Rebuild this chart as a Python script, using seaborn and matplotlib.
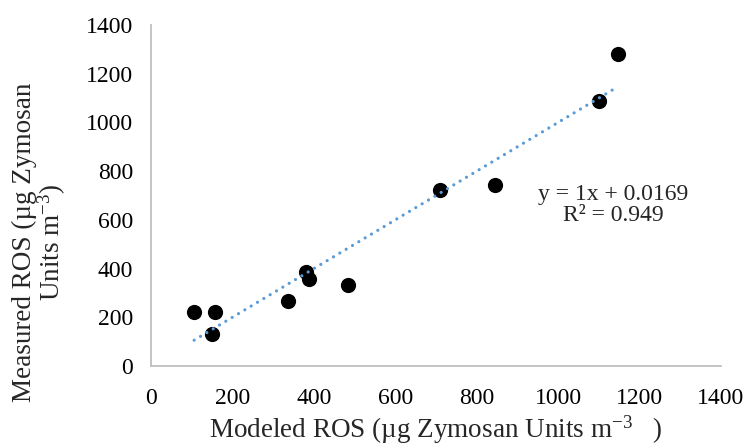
import matplotlib
matplotlib.use("Agg")
import matplotlib.pyplot as plt
import seaborn as sns
import numpy as np
import pandas as pd

# Data
modeled = [106, 157, 149, 336, 381, 387, 484, 710, 845, 1101, 1148]
measured = [221, 221, 130, 268, 385, 357, 332, 724, 742, 1090, 1282]
trend_slope = 1.0
trend_intercept = 0.0169
x_ticks = [0, 200, 400, 600, 800, 1000, 1200, 1400]
y_ticks = [0, 200, 400, 600, 800, 1000, 1200, 1400]
eq_lines = ["y = 1x + 0.0169", "R² = 0.949"]

sns.set_theme(style="white")
plt.rcParams['font.family'] = ['Liberation Serif', 'DejaVu Serif']
plt.rcParams['mathtext.fontset'] = 'custom'
plt.rcParams['mathtext.rm'] = 'Liberation Serif'
plt.rcParams['mathtext.it'] = 'Liberation Serif:italic'

df = pd.DataFrame({"Modeled": modeled, "Measured": measured})

fig = plt.figure(figsize=(7.47, 4.46), dpi=100)
ax = fig.add_axes([151/747, 1 - 366/446, (721 - 151)/747, (366 - 25)/446])

sns.scatterplot(data=df, x="Modeled", y="Measured", ax=ax, color="black",
                s=120, edgecolor="black", linewidth=0, zorder=2)

xs = np.array([min(modeled), max(modeled)])
ax.plot(xs, trend_slope * xs + trend_intercept, color="#5B9BD5", lw=2.3,
        linestyle=(0, (0.01, 2.3)), dash_capstyle="round", zorder=3)

ax.set_xlim(0, 1400)
ax.set_ylim(0, 1400)
ax.set_xticks(x_ticks)
ax.set_yticks(y_ticks)
ax.tick_params(axis="both", length=0, labelsize=17, colors="black")
ax.tick_params(axis="y", pad=13)
ax.tick_params(axis="x", pad=16)

for s in ["top", "right"]:
    ax.spines[s].set_visible(False)
for s in ["left", "bottom"]:
    ax.spines[s].set_color("#BFBFBF")
    ax.spines[s].set_linewidth(1.3)

ax.set_xlabel(r"Modeled ROS (µg Zymosan Units m$^{\mathregular{-3}}$   )", fontsize=19.5)
ax.set_ylabel("Measured ROS (µg Zymosan\n" + r"Units m$^{\mathregular{-3}}$)", fontsize=19.5,
              linespacing=0.95)
ax.xaxis.set_label_coords(0.5, -0.14)
ax.yaxis.set_label_coords(-0.145, 0.364)

ax.text(1135, 661, eq_lines[0] + "\n" + eq_lines[1], transform=ax.transData,
        ha="center", va="center", fontsize=17, linespacing=1.05)

fig.savefig("out.png", dpi=100)
